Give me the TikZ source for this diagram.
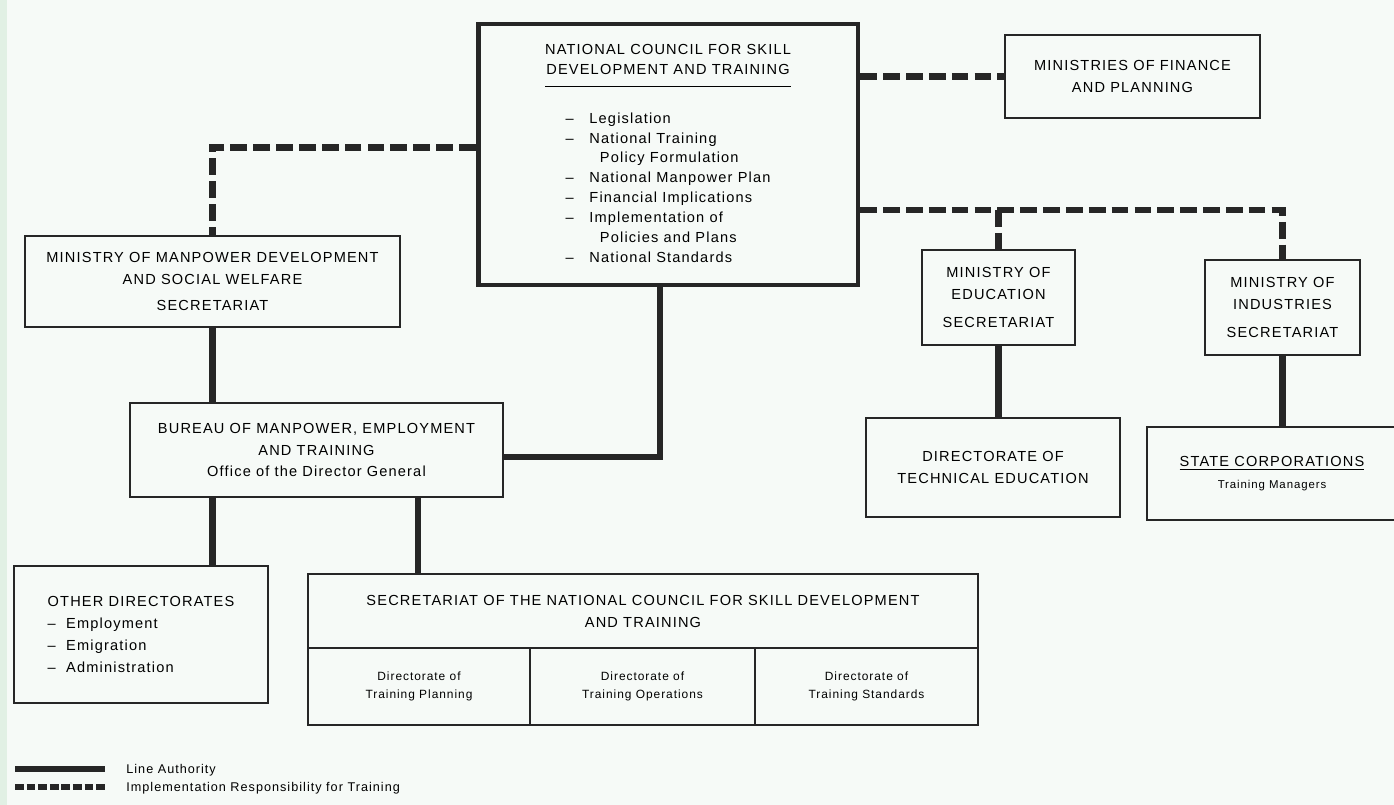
\documentclass[tikz,border=0pt]{standalone}
\usepackage{fontspec}
\newfontfamily\chartfont{Liberation Sans}[LetterSpace=8]
\definecolor{paper}{RGB}{246,250,247}
\definecolor{edge}{RGB}{225,240,228}
\definecolor{ink}{RGB}{38,38,38}

\begin{document}
\begin{tikzpicture}[x=0.02cm, y=-0.02cm,
  orgbox/.style={draw=ink, line width=1.3pt, align=center, inner sep=2pt, font=\chartfont\fontsize{8.3}{12.5}\selectfont},
  councilbox/.style={orgbox, line width=2.8pt, font=\chartfont\fontsize{8.3}{11.3}\selectfont},
  cellbox/.style={orgbox, font=\chartfont\fontsize{6.8}{10.5}\selectfont},
  authline/.style={draw=ink, line width=3.8pt},
  impline/.style={draw=ink, line width=3.6pt, dash pattern=on 9.5pt off 3.5pt},
  legendtext/.style={anchor=west, inner sep=0pt, font=\chartfont\fontsize{7.2}{9}\selectfont}
]
  \useasboundingbox (0,0) rectangle (1394,805);
  \fill[paper] (0,0) rectangle (1394,805);
  \fill[edge] (0,0) rectangle (7,805);

  \node[councilbox, minimum width=7.6cm, minimum height=5.22cm] (council) at (668,154.5) {
    \begin{tabular}{@{}c@{}}NATIONAL COUNCIL FOR SKILL\\DEVELOPMENT AND TRAINING\\[3pt]\hline\end{tabular}\\[12pt]
    \begin{tabular}{@{}l@{\hspace{9pt}}l@{}}
      \textendash & Legislation\\
      \textendash & National Training\\
                  & \hspace{6pt}Policy Formulation\\
      \textendash & National Manpower Plan\\
      \textendash & Financial Implications\\
      \textendash & Implementation of\\
                  & \hspace{6pt}Policies and Plans\\
      \textendash & National Standards
    \end{tabular}
  };
  \node[orgbox, minimum width=5.1cm, minimum height=1.66cm] (finance) at (1132.5,76.5) {MINISTRIES OF FINANCE\\AND PLANNING};
  \node[orgbox, minimum width=7.5cm, minimum height=1.82cm] (manpower) at (212.5,281.5) {MINISTRY OF MANPOWER DEVELOPMENT\\AND SOCIAL WELFARE\\[2pt]SECRETARIAT};
  \node[orgbox, minimum width=7.46cm, minimum height=1.88cm] (bureau) at (316.5,450) {BUREAU OF MANPOWER, EMPLOYMENT\\AND TRAINING\\Office of the Director General};
  \node[orgbox, minimum width=3.06cm, minimum height=1.9cm] (education) at (998.5,297.5) {MINISTRY OF\\EDUCATION\\[3pt]SECRETARIAT};
  \node[orgbox, minimum width=3.1cm, minimum height=1.9cm] (industries) at (1282.5,307.5) {MINISTRY OF\\INDUSTRIES\\[3pt]SECRETARIAT};
  \node[orgbox, minimum width=5.08cm, minimum height=1.98cm] (techdir) at (993,467.5) {DIRECTORATE OF\\TECHNICAL EDUCATION};
  \node[orgbox, minimum width=5.0cm, minimum height=1.86cm] (statecorp) at (1272,473.5) {\underline{STATE CORPORATIONS}\\{\fontsize{6.5}{9}\selectfont Training Managers}};
  \node[orgbox, align=left, minimum width=5.08cm, minimum height=2.74cm] (other) at (141,634.5) {OTHER DIRECTORATES\\\textendash\ \ Employment\\\textendash\ \ Emigration\\\textendash\ \ Administration};
  \node[orgbox, minimum width=13.4cm, minimum height=1.48cm] (secr) at (643,611) {SECRETARIAT OF THE NATIONAL COUNCIL FOR SKILL DEVELOPMENT\\AND TRAINING};
  \node[cellbox, minimum width=4.44cm, minimum height=1.54cm] (plan) at (419,686.5) {Directorate of\\Training Planning};
  \node[cellbox, minimum width=4.5cm, minimum height=1.54cm] (ops) at (642.5,686.5) {Directorate of\\Training Operations};
  \node[cellbox, minimum width=4.46cm, minimum height=1.54cm] (std) at (866.5,686.5) {Directorate of\\Training Standards};

  \coordinate (rbranch) at (998.5,210);
  \coordinate (sdrop) at (418,497);
  \draw[impline] ([yshift=4pt]council.west) -| (manpower.north);
  \draw[impline] (council.east |- finance.west) -- (finance.west);
  \draw[impline] (council.east |- rbranch) -| (industries.north);
  \draw[impline] (rbranch) -- (education.north);

  \draw[authline] (manpower.south) -- (manpower.south |- bureau.north);
  \draw[authline] ([xshift=-4.5pt]council.south) |- ([yshift=-4pt]bureau.east);
  \draw[authline] (bureau.south -| manpower.south) -- (manpower.south |- other.north);
  \draw[authline] (sdrop) -- (sdrop |- secr.north);
  \draw[authline] (education.south) -- (education.south |- techdir.north);
  \draw[authline] (industries.south) -- (industries.south |- statecorp.north);

  \coordinate (la1) at (15,769);
  \coordinate (la2) at (105,769);
  \coordinate (li1) at (15,787);
  \coordinate (li2) at (105,787);
  \draw[authline] (la1) -- (la2);
  \draw[impline, dash pattern=on 5pt off 1.6pt] (li1) -- (li2);
  \node[legendtext] (lalabel) at (126,770) {Line Authority};
  \node[legendtext] (lilabel) at (126,788) {Implementation Responsibility for Training};
\end{tikzpicture}
\end{document}
